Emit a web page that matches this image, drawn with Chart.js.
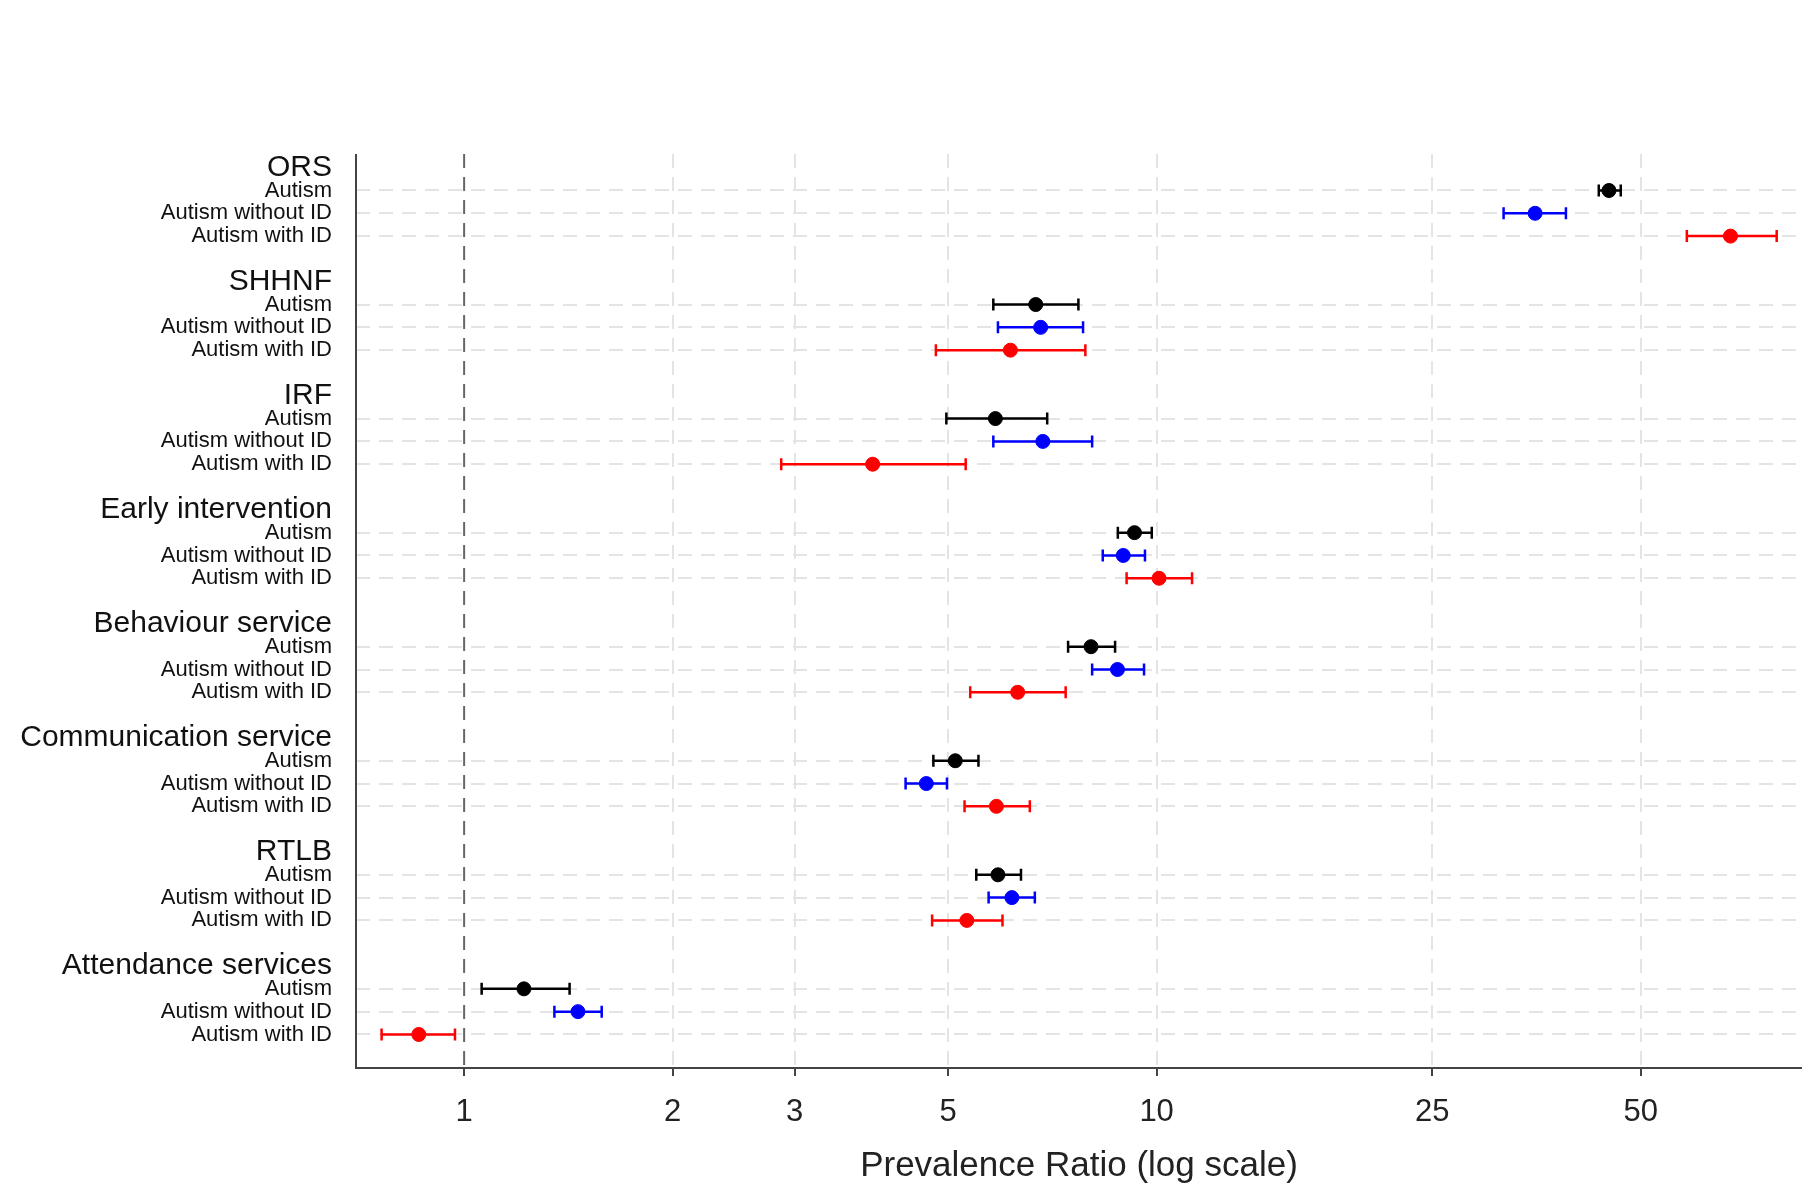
<!DOCTYPE html>
<html><head><meta charset="utf-8">
<script src="https://cdn.jsdelivr.net/npm/chart.js@4"></script>
<style>html,body{margin:0;padding:0;background:#fff}#w{width:1810px;height:1191px}</style>
</head><body><div id="w"><canvas id="c"></canvas></div>
<script>
const groups = ["ORS","SHHNF","IRF","Early intervention","Behaviour service","Communication service","RTLB","Attendance services"];
const subLabels = ["Autism","Autism without ID","Autism with ID"];
const xTicks = [1,2,3,5,10,25,50];
// [point, low, high] per group
const autism      = [[45,43.5,46.8],[6.69,5.81,7.71],[5.85,4.97,6.95],[9.29,8.79,9.84],[8.04,7.45,8.71],[5.12,4.76,5.53],[5.90,5.49,6.37],[1.22,1.06,1.42]];
const autismNoID  = [[35.2,31.7,39.0],[6.80,5.90,7.83],[6.85,5.81,8.07],[8.95,8.36,9.62],[8.78,8.07,9.59],[4.65,4.34,4.98],[6.18,5.72,6.67],[1.46,1.35,1.58]];
const autismWithID= [[67.4,58.3,78.6],[6.15,4.80,7.89],[3.89,2.87,5.30],[10.08,9.05,11.25],[6.30,5.38,7.39],[5.87,5.28,6.56],[5.32,4.74,5.99],[0.86,0.76,0.97]];
const seriesColors = ["#000000","#0000ff","#ff0000"];
const series = [autism, autismNoID, autismWithID];

const labelAt = {};
groups.forEach((g,i)=>{ labelAt[i*5]=g; subLabels.forEach((s,j)=>labelAt[i*5+1+j]=s); });

const datasets = series.map((arr,k)=>({
  data: arr.map((v,i)=>({x:v[0], y:i*5+1+k, lo:v[1], hi:v[2]})),
  backgroundColor: seriesColors[k], borderColor: seriesColors[k],
  pointRadius: 7, pointHoverRadius: 7, showLine:false
}));

const errPlugin = {
  id:'err',
  beforeDatasetsDraw(chart){
    const {ctx, scales:{x,y}, chartArea:a} = chart;
    ctx.save();
    ctx.strokeStyle='#666'; ctx.lineWidth=2; ctx.setLineDash([14,9]);
    const x1 = x.getPixelForValue(1);
    ctx.beginPath(); ctx.moveTo(x1,a.top); ctx.lineTo(x1,a.bottom); ctx.stroke();
    ctx.setLineDash([]);
    chart.data.datasets.forEach(ds=>{
      ctx.strokeStyle=ds.borderColor; ctx.lineWidth=2.5;
      ds.data.forEach(p=>{
        const yy=y.getPixelForValue(p.y), xl=x.getPixelForValue(p.lo), xh=x.getPixelForValue(p.hi);
        ctx.beginPath(); ctx.moveTo(xl,yy); ctx.lineTo(xh,yy);
        ctx.moveTo(xl,yy-6); ctx.lineTo(xl,yy+6); ctx.moveTo(xh,yy-6); ctx.lineTo(xh,yy+6); ctx.stroke();
      });
    });
    ctx.strokeStyle='#444'; ctx.lineWidth=2;
    ctx.beginPath(); ctx.moveTo(a.left,a.top); ctx.lineTo(a.left,a.bottom); ctx.lineTo(a.right,a.bottom); ctx.stroke();
    ctx.restore();
  }
};

new Chart(document.getElementById('c'), {
  type:'scatter',
  data:{datasets},
  plugins:[errPlugin],
  options:{
    responsive:true, maintainAspectRatio:false, animation:false,
    layout:{padding:{top:154,right:4,left:0,bottom:0}},
    plugins:{legend:{display:false},tooltip:{enabled:false}},
    scales:{
      x:{type:'logarithmic', min:0.698, max:85.5,
        afterBuildTicks(s){ s.ticks = xTicks.map(v=>({value:v})); },
        afterFit(s){ s.height = 123; },
        ticks:{callback:v=>String(v), font:{family:'Liberation Sans, Arial', size:31}, color:'#222', padding:18, maxRotation:0, autoSkip:false},
        grid:{color:c=> c.tick && c.tick.value===1 ? 'rgba(0,0,0,0)' : '#e4e4e4', lineWidth:2, drawTicks:true, tickLength:8, tickColor:'#444'},
        border:{display:false, dash:[14,9]},
        title:{display:true, text:'Prevalence Ratio (log scale)', font:{family:'Liberation Sans, Arial', size:35}, color:'#222', padding:{top:4}}
      },
      y:{type:'linear', reverse:true, min:-0.6, max:39.47,
        afterBuildTicks(s){ const t=[]; for(let i=0;i<40;i++){ if(i%5!==4) t.push({value:i}); } s.ticks=t; },
        afterFit(s){ s.width = 356; },
        ticks:{autoSkip:false, padding:24,
          callback:v=>labelAt[v]||'',
          font:c=> (c.tick && c.tick.value%5===0) ? {family:'Liberation Sans, Arial', size:30} : {family:'Liberation Sans, Arial', size:22},
          color:'#111'},
        grid:{color:c=> (c.tick && c.tick.value%5===0) ? 'rgba(0,0,0,0)' : '#e4e4e4', lineWidth:2, drawTicks:false},
        border:{display:false, dash:[14,9]}
      }
    }
  }
});
</script></body></html>
